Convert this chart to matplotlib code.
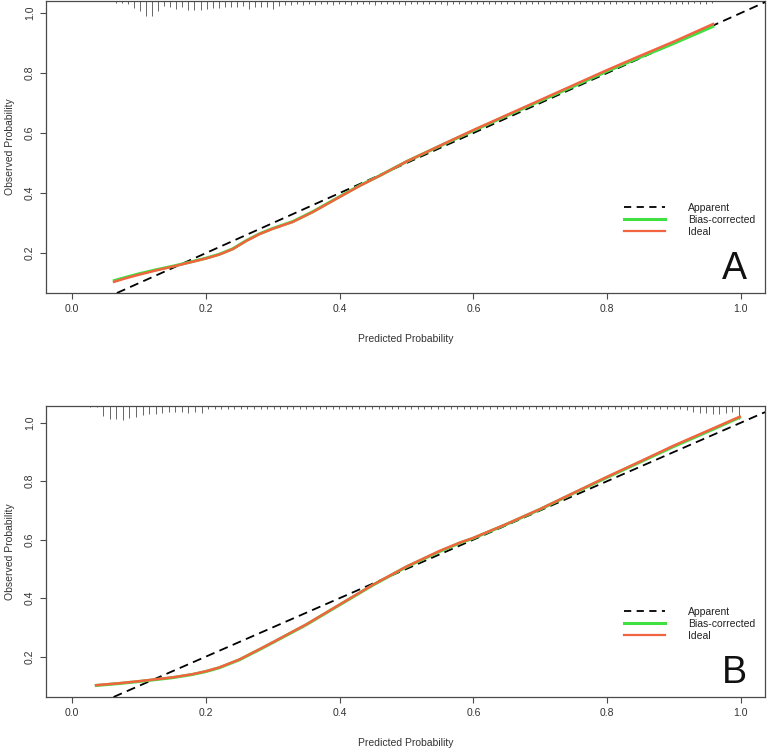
import numpy as np
import matplotlib
matplotlib.use("Agg")
import matplotlib.pyplot as plt
import matplotlib.transforms as mtransforms
from matplotlib.lines import Line2D

plt.rcParams['font.family'] = ['Liberation Sans Narrow', 'Liberation Sans', 'DejaVu Sans']

# ---------------- data ----------------
# Panel A calibration curves
a_pred = [0.061, 0.08, 0.10, 0.125, 0.154, 0.18, 0.20, 0.22, 0.24, 0.26, 0.28, 0.30, 0.33,
          0.36, 0.40, 0.43, 0.46, 0.50, 0.55, 0.60, 0.65, 0.70, 0.75, 0.80, 0.85, 0.90, 0.93, 0.96]
a_ideal = [0.103, 0.116, 0.128, 0.142, 0.157, 0.171, 0.182, 0.195, 0.213, 0.240, 0.263, 0.281, 0.304,
           0.337, 0.387, 0.424, 0.458, 0.505, 0.558, 0.610, 0.660, 0.710, 0.760, 0.810, 0.858, 0.905, 0.935, 0.965]
a_bias = [0.107, 0.119, 0.131, 0.144, 0.158, 0.172, 0.183, 0.196, 0.214, 0.241, 0.264, 0.282, 0.305,
          0.338, 0.388, 0.425, 0.458, 0.505, 0.557, 0.608, 0.658, 0.707, 0.756, 0.806, 0.853, 0.899, 0.928, 0.957]

# Panel B calibration curves
b_pred = [0.034, 0.07, 0.10, 0.15, 0.18, 0.20, 0.22, 0.25, 0.28, 0.30, 0.35, 0.40, 0.45, 0.50,
          0.55, 0.58, 0.60, 0.65, 0.70, 0.75, 0.80, 0.85, 0.90, 0.95, 1.00]
b_ideal = [0.102, 0.109, 0.116, 0.129, 0.140, 0.150, 0.163, 0.190, 0.225, 0.249, 0.310, 0.378, 0.446, 0.508,
           0.562, 0.590, 0.606, 0.654, 0.705, 0.760, 0.815, 0.868, 0.922, 0.972, 1.022]
b_bias = [0.101, 0.108, 0.115, 0.128, 0.139, 0.149, 0.162, 0.189, 0.224, 0.248, 0.309, 0.377, 0.445, 0.507,
          0.560, 0.589, 0.605, 0.653, 0.704, 0.759, 0.813, 0.866, 0.919, 0.969, 1.020]

# Rug (distribution of predictions) — bin start, bin width, tick heights
rug_a_start, rug_a_step = 0.066, 0.009
rug_a_heights = [2, 2, 3, 7, 10, 15, 15, 10, 5, 6, 8, 6, 9, 9, 9, 8, 7, 7, 6, 6,
                 6, 5, 8, 6, 6, 6, 8, 5, 4, 4, 3, 4, 3, 4, 3, 3, 4, 3, 3, 4,
                 3, 3, 3, 4, 3, 3, 3, 3, 4, 3, 3, 3, 3, 3, 3, 4, 3, 3, 3, 3,
                 3, 3, 3, 3, 3, 3, 3, 3, 3, 3, 3, 3, 3, 2, 3, 3, 3, 3, 2, 3,
                 3, 3, 3, 3, 2, 3, 3, 3, 3, 3, 3, 2, 3, 3, 3, 3, 2, 3, 3, 2]
rug_b_start, rug_b_step = 0.027, 0.0098
rug_b_heights = [1, 1, 10, 13, 13, 14, 12, 11, 9, 8, 8, 7, 6, 6, 6, 7, 6, 7, 3, 3,
                 3, 3, 3, 3, 3, 3, 3, 3, 3, 3, 3, 3, 3, 3, 3, 3, 3, 3, 3, 3,
                 3, 3, 3, 3, 3, 3, 3, 3, 3, 3, 3, 3, 3, 3, 3, 3, 3, 3, 3, 3,
                 3, 3, 3, 3, 3, 3, 3, 3, 3, 3, 3, 3, 3, 3, 3, 3, 3, 3, 3, 3,
                 3, 3, 3, 3, 3, 3, 3, 3, 3, 3, 3, 4, 6, 7, 7, 8, 8, 7, 6, 13]

xticks = [0.0, 0.2, 0.4, 0.6, 0.8, 1.0]
yticks = [0.2, 0.4, 0.6, 0.8, 1.0]
legend_labels = ["Apparent", "Bias-corrected", "Ideal"]
panel_letters = ["A", "B"]

# ---------------- style ----------------
W, H = 767, 750
DPI = 100
GREEN = "#3FE03F"
RED = "#F26440"
AX_COL = "#4a4a4a"

fig = plt.figure(figsize=(W / DPI, H / DPI), dpi=DPI)


def px_rect(left, top, right, bottom):
    return [left / W, 1 - bottom / H, (right - left) / W, (bottom - top) / H]


panels = [
    dict(rect=px_rect(46, 1, 765, 293), ylim=(0.067, 1.04),
         pred=a_pred, ideal=a_ideal, bias=a_bias,
         rs=rug_a_start, rstep=rug_a_step, rh=rug_a_heights, letter=panel_letters[0]),
    dict(rect=px_rect(46, 406, 765, 697), ylim=(0.062, 1.057),
         pred=b_pred, ideal=b_ideal, bias=b_bias,
         rs=rug_b_start, rstep=rug_b_step, rh=rug_b_heights, letter=panel_letters[1]),
]

for p in panels:
    ax = fig.add_axes(p["rect"])
    ax.set_xlim(-0.039, 1.036)
    ax.set_ylim(*p["ylim"])
    ax_w_px = p["rect"][2] * W
    ax_h_px = p["rect"][3] * H

    # rug along top
    n = len(p["rh"])
    rx = [p["rs"] + i * p["rstep"] for i in range(n)]
    trans = mtransforms.blended_transform_factory(ax.transData, ax.transAxes)
    ax.vlines(rx, [1 - h / ax_h_px for h in p["rh"]], 1.0, transform=trans,
              color="#666666", lw=0.7, zorder=2)

    # diagonal (Apparent)
    ax.axline((0, 0), (1, 1), color="black", lw=1.3, ls=(0, (5, 3)), zorder=3)
    ax.plot(p["pred"], p["bias"], color=GREEN, lw=2.2, zorder=4, solid_capstyle="butt")
    ax.plot(p["pred"], p["ideal"], color=RED, lw=1.8, zorder=5, solid_capstyle="butt")

    for s in ax.spines.values():
        s.set_color(AX_COL)
        s.set_linewidth(0.9)
    ax.set_xticks(xticks)
    ax.set_xticklabels([f"{v:.1f}" for v in xticks])
    ax.set_yticks(yticks)
    ax.set_yticklabels([f"{v:.1f}" for v in yticks], rotation=90, va="center")
    ax.tick_params(direction="out", length=4, width=0.8, color=AX_COL,
                   labelsize=7.5, labelcolor="#333333", pad=4)
    ax.set_xlabel("Predicted Probability", fontsize=7.5, color="#333333", labelpad=14)
    ax.set_ylabel("Observed Probability", fontsize=7.5, color="#333333",
                  family=['Liberation Sans', 'DejaVu Sans'])
    ax.yaxis.set_label_coords((15 - 46) / ax_w_px, 0.5)

    handles = [Line2D([], [], color="black", lw=1.3, ls=(0, (4, 3))),
               Line2D([], [], color=GREEN, lw=2.2),
               Line2D([], [], color=RED, lw=1.6)]
    leg = ax.legend(handles, legend_labels, loc="lower right",
                    bbox_to_anchor=(1.0, 0.16), frameon=False,
                    prop=dict(family=['Liberation Sans', 'DejaVu Sans'], size=7.5),
                    handlelength=4.0, handletextpad=2.2, labelspacing=0.2)
    for t in leg.get_texts():
        t.set_color("#222222")
    ax.text(0.975, 0.02, p["letter"], transform=ax.transAxes, ha="right", va="bottom",
            fontsize=27, family=['Liberation Sans', 'DejaVu Sans'], color="#111111")

fig.savefig("out.png", dpi=DPI)
